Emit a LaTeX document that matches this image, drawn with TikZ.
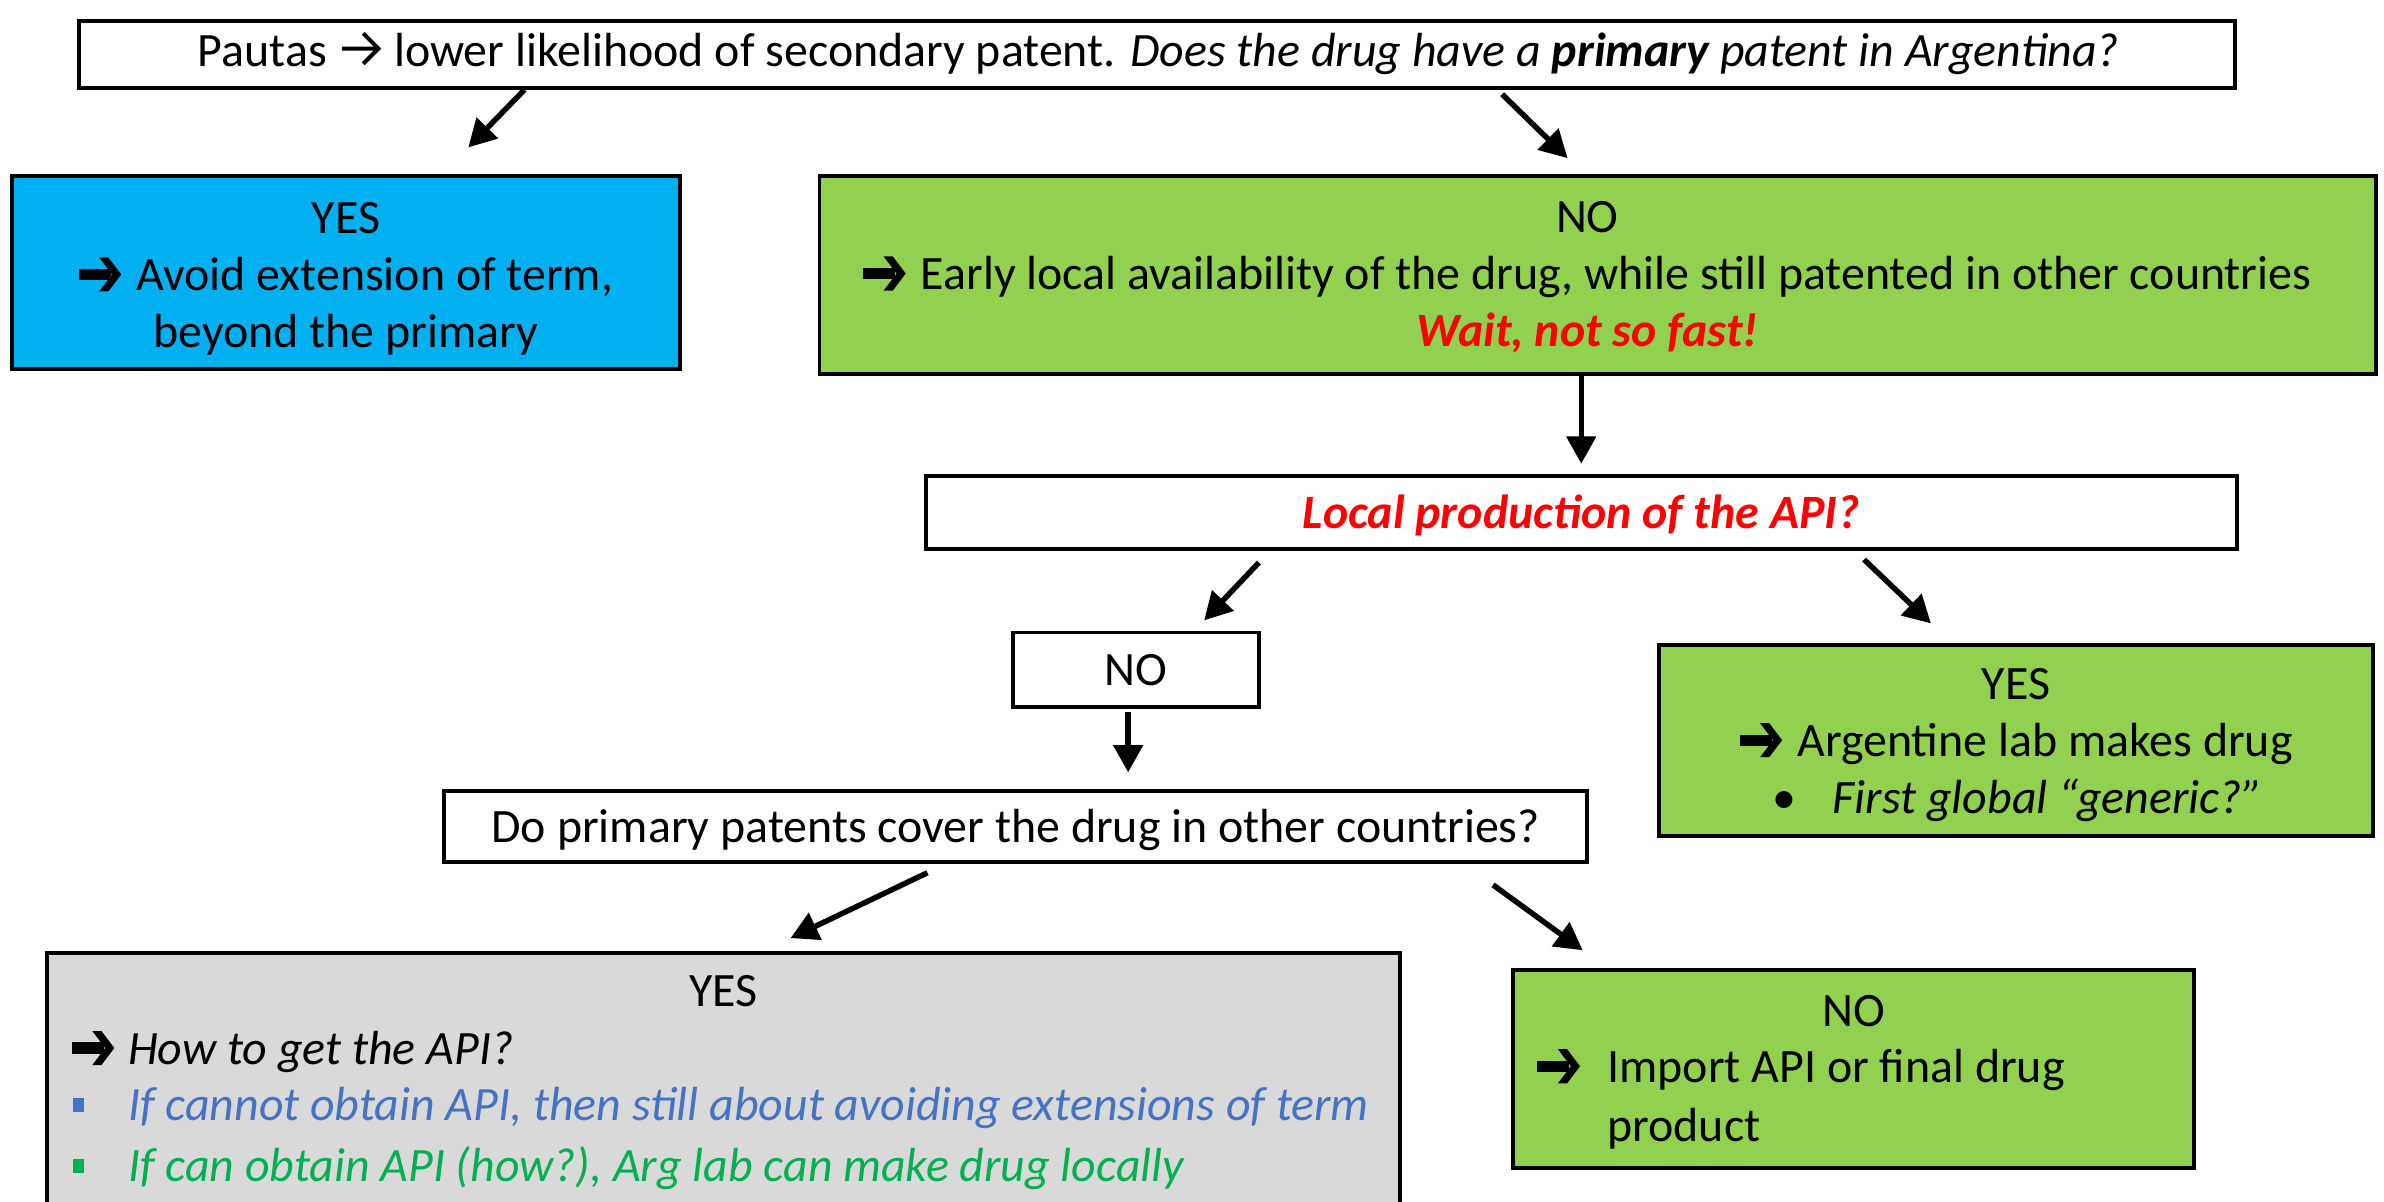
\documentclass[tikz,border=0pt]{standalone}
\usepackage{fontspec}
\setmainfont{Carlito}
\usetikzlibrary{arrows.meta,calc}
\definecolor{boxblue}{HTML}{00B0F0}
\definecolor{boxgreen}{HTML}{92D050}
\definecolor{boxgray}{HTML}{D9D9D9}
\definecolor{txtred}{HTML}{FF0000}
\definecolor{txtblue}{HTML}{4472C4}
\definecolor{txtgreen}{HTML}{00B050}
% heavy wide-headed arrow (like Wingdings)
\newcommand{\harr}{\tikz[baseline=0pt,x=1pt,y=1pt]{%
  \fill[black] (0,7) rectangle (21,14.4);
  \fill[black] (13.5,21.9) -- (19.5,21.9) -- (28,10.7) -- (19.5,-0.5) -- (13.5,-0.5) -- (22,10.7) -- cycle;}}
% thin arrow
\newcommand{\tarr}{\tikz[baseline=0pt,x=1pt,y=1pt]{%
  \draw[black,line width=2.6pt,line join=miter] (0,12) -- (24,12) (14,22) -- (24,12) -- (14,2);}}
\newcommand{\sqb}{\raisebox{5.5pt}{\rule{7pt}{9.5pt}}}
\tikzset{
  box/.style={draw=black, line width=2.6pt, inner sep=0pt},
  txt/.style={inner sep=0pt, align=center, font=\fontsize{31.5}{37.5}\selectfont},
  arr/.style={line width=3.6pt, -{Triangle[length=18pt,width=19pt]}},
}
\begin{document}
\begin{tikzpicture}[x=1pt,y=-1pt]
\clip (0,0) rectangle (1568,790);
\fill[white] (0,0) rectangle (1568,790);

% boxes
\node[box, fill=white, minimum width=1418pt, minimum height=44pt] (top) at (761,36) {};
\node[box, fill=boxblue, minimum width=439pt, minimum height=127pt] (yes1) at (227.5,179.5) {};
\node[box, fill=boxgreen, minimum width=1024pt, minimum height=130pt] (no1) at (1051,181) {};
\node[box, fill=white, minimum width=862pt, minimum height=48pt] (local) at (1040,337) {};
\node[box, fill=white, minimum width=162pt, minimum height=49pt] (no2) at (747,440.5) {};
\node[box, fill=boxgreen, minimum width=470pt, minimum height=126pt] (yes2) at (1326,487) {};
\node[box, fill=white, minimum width=752pt, minimum height=47pt] (cover) at (668,543.5) {};
\node[box, fill=boxgray, minimum width=890pt, minimum height=173pt] (yes3) at (476,713.5) {};
\node[box, fill=boxgreen, minimum width=448pt, minimum height=130pt] (no3) at (1219,703) {};

% texts
\node[txt] (topt) at (762,35)
  {Pautas\hspace{8.6pt}\tarr\hspace{9pt}lower likelihood of secondary patent. \textit{Does the drug have a \textbf{primary} patent in Argentina?}};
\node[txt] (yes1t) at (227.5,183.5)
  {YES\\ \harr\hspace{10pt}Avoid extension of term,\\ beyond the primary};
\node[txt] (no1t) at (1044,182.5)
  {NO\\ \harr\hspace{10pt}Early local availability of the drug, while still patented in other countries\\
   \textcolor{txtred}{\textbf{\textit{Wait, not so fast!}}}};
\node[txt] (localt) at (1040,339)
  {\textcolor{txtred}{\textbf{\textit{Local production of the API?}}}};
\node[txt] (no2t) at (747,440.5) {NO};
\node[txt] (yes2t) at (1326,490)
  {YES\\ \harr\hspace{10pt}Argentine lab makes drug\\ \hspace*{2pt}•\hspace{24pt}\textit{First global “generic?”}};
\node[txt] (covert) at (668,546)
  {Do primary patents cover the drug in other countries?};

% texts of gray box
\node[txt, anchor=base] (y3a) at (476,662) {YES};
\node[txt, anchor=base west] (y3b) at (47,700) {\harr\hspace{9pt}\textit{How to get the API?}};
\node[txt, anchor=base west] (y3c) at (48,737) {\textcolor{txtblue}{\sqb}};
\node[txt, anchor=base west] (y3d) at (84,737) {\textcolor{txtblue}{\textit{If cannot obtain API, then still about avoiding extensions of term}}};
\node[txt, anchor=base west] (y3e) at (48,777) {\textcolor{txtgreen}{\sqb}};
\node[txt, anchor=base west] (y3f) at (84,777) {\textcolor{txtgreen}{\textit{If can obtain API (how?), Arg lab can make drug locally}}};

% texts of bottom NO box
\node[txt, anchor=base] (n3a) at (1219,675) {NO};
\node[txt, anchor=base west] (n3b) at (1011,712) {\harr};
\node[txt, anchor=base west] (n3c) at (1057,712) {Import API or final drug};
\node[txt, anchor=base west] (n3d) at (1057,751) {product};

% arrow end points
\coordinate (a1s) at (345,59);  \coordinate (a1e) at (308,97);
\coordinate (a2s) at (988,62);  \coordinate (a2e) at (1031,104);
\coordinate (a3s) at (1040,246); \coordinate (a3e) at (1040,305);
\coordinate (a4s) at (828,370); \coordinate (a4e) at (792,408);
\coordinate (a5s) at (1226,368); \coordinate (a5e) at (1270,410);
\coordinate (a6s) at (742,468); \coordinate (a6e) at (742,508);
\coordinate (a7s) at (610,574); \coordinate (a7e) at (520,617);
\coordinate (a8s) at (982,582); \coordinate (a8e) at (1041,625);

\draw[arr] (a1s) -- (a1e);
\draw[arr] (a2s) -- (a2e);
\draw[arr] (a3s) -- (a3e);
\draw[arr] (a4s) -- (a4e);
\draw[arr] (a5s) -- (a5e);
\draw[arr] (a6s) -- (a6e);
\draw[arr] (a7s) -- (a7e);
\draw[arr] (a8s) -- (a8e);
\end{tikzpicture}
\end{document}
